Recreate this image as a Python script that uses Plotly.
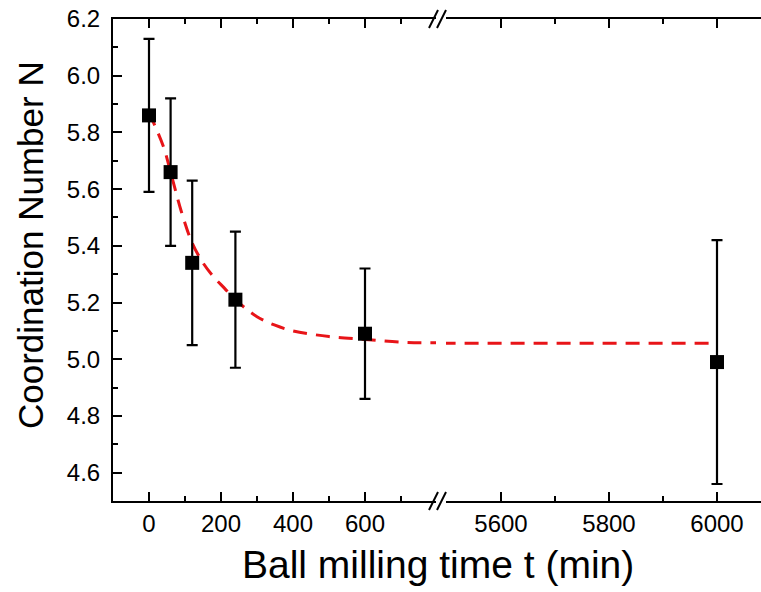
import plotly.graph_objects as go

# ---- data ----
t_left = [0, 60, 120, 240, 600]
n_left = [5.86, 5.66, 5.34, 5.21, 5.09]
up_left = [6.13, 5.92, 5.63, 5.45, 5.32]
lo_left = [5.59, 5.40, 5.05, 4.97, 4.86]

t_right = [6000]
n_right = [4.99]
up_right = [5.42]
lo_right = [4.56]

fit_t_left = [0, 40, 60, 90, 120, 150, 180, 210, 240, 300, 350, 400, 500, 600, 700, 800]
fit_n_left = [5.87, 5.75, 5.66, 5.52, 5.41, 5.34, 5.29, 5.25, 5.21, 5.15, 5.12, 5.10, 5.08, 5.07, 5.06, 5.058]
fit_t_right = [5490, 6000]
fit_n_right = [5.056, 5.056]

left_ticks = [0, 200, 400, 600]
left_minor = [100, 300, 500, 700]
right_ticks = [5600, 5800, 6000]
right_minor = [5700, 5900]

# ---- layout geometry (pixels) ----
W, H = 761, 592
L, R, T, B = 113, 0, 19, 91
pw = W - L - R
ph = H - T - B
brk_a, brk_b = 436, 446          # break gap in pixels
px_left = 0.36                   # px per minute (left)
px_right = 0.54                  # px per minute (right)
x0_pix = 149                     # pixel of t=0
x6000_pix = 717                  # pixel of t=6000

d1 = (brk_a - L) / pw
d2 = (brk_b - L) / pw
left_range = [-(x0_pix - L) / px_left, (brk_a - x0_pix) / px_left]
right_range = [6000 - (x6000_pix - brk_b) / px_right, 6000 + (W - x6000_pix) / px_right]

red = "rgb(232,20,24)"
font = "Liberation Sans, Arial, sans-serif"

fig = go.Figure()
fig.add_trace(go.Scatter(x=fit_t_left, y=fit_n_left, mode="lines", xaxis="x", yaxis="y",
                         line=dict(color=red, width=3, dash="14px,9px", shape="spline"),
                         showlegend=False, hoverinfo="skip"))
fig.add_trace(go.Scatter(x=fit_t_right, y=fit_n_right, mode="lines", xaxis="x2", yaxis="y",
                         line=dict(color=red, width=3, dash="14px,9px"),
                         showlegend=False, hoverinfo="skip"))
fig.add_trace(go.Scatter(x=t_left, y=n_left, mode="markers", xaxis="x", yaxis="y",
                         marker=dict(symbol="square", size=14, color="black"),
                         error_y=dict(type="data", symmetric=False,
                                      array=[u - n for u, n in zip(up_left, n_left)],
                                      arrayminus=[n - l for l, n in zip(lo_left, n_left)],
                                      color="black", thickness=2.2, width=5.5),
                         showlegend=False))
fig.add_trace(go.Scatter(x=t_right, y=n_right, mode="markers", xaxis="x2", yaxis="y",
                         marker=dict(symbol="square", size=14, color="black"),
                         error_y=dict(type="data", symmetric=False,
                                      array=[u - n for u, n in zip(up_right, n_right)],
                                      arrayminus=[n - l for l, n in zip(lo_right, n_right)],
                                      color="black", thickness=2.2, width=5.5),
                         showlegend=False))

axis_common = dict(showline=True, linecolor="black", linewidth=2, mirror="allticks",
                   ticks="inside", ticklen=9, tickwidth=2, tickcolor="black",
                   showgrid=False, zeroline=False,
                   tickfont=dict(family=font, size=24, color="black"))

fig.update_layout(
    width=W, height=H,
    margin=dict(l=L, r=R, t=T, b=B),
    paper_bgcolor="white", plot_bgcolor="white",
    font=dict(family=font, color="black"),
    xaxis=dict(domain=[0, d1], range=left_range, anchor="y",
               tickmode="array", tickvals=left_ticks,
               minor=dict(tickvals=left_minor, ticks="inside", ticklen=5, tickwidth=2, tickcolor="black"),
               **axis_common),
    xaxis2=dict(domain=[d2, 1], range=right_range, anchor="y",
                tickmode="array", tickvals=right_ticks,
                minor=dict(tickvals=right_minor, ticks="inside", ticklen=5, tickwidth=2, tickcolor="black"),
                **axis_common),
    yaxis=dict(domain=[0, 1], range=[4.5, 6.2], anchor="x",
               showline=True, linecolor="black", linewidth=2,
               ticks="inside", ticklen=9, tickwidth=2, tickcolor="black",
               tick0=4.6, dtick=0.2, tickformat=".1f",
               minor=dict(dtick=0.1, ticks="inside", ticklen=5, tickwidth=2, tickcolor="black"),
               showgrid=False, zeroline=False, ticklabelstandoff=6,
               tickfont=dict(family=font, size=24, color="black")),
)

# break marks
def px2paper(xp, yp):
    return (xp - L) / pw, (H - B - yp) / ph

shapes = []
for yaxis_pix in (T, H - B):
    for xs in (429, 437):
        xa, ya = px2paper(xs, yaxis_pix + 9)
        xb, yb = px2paper(xs + 9, yaxis_pix - 9)
        shapes.append(dict(type="line", xref="paper", yref="paper",
                           x0=xa, y0=ya, x1=xb, y1=yb,
                           line=dict(color="black", width=2)))
fig.update_layout(shapes=shapes)

# axis titles
tx, ty = px2paper(30, 245)
fig.add_annotation(text="Coordination Number N", xref="paper", yref="paper",
                   x=tx, y=ty, xanchor="center", yanchor="middle", textangle=-90,
                   showarrow=False, font=dict(family=font, size=35, color="black"))
bx, by = px2paper(438, 564)
fig.add_annotation(text="Ball milling time t (min)", xref="paper", yref="paper",
                   x=bx, y=by, xanchor="center", yanchor="middle",
                   showarrow=False, font=dict(family=font, size=39, color="black"))

fig.write_html("out.html")
